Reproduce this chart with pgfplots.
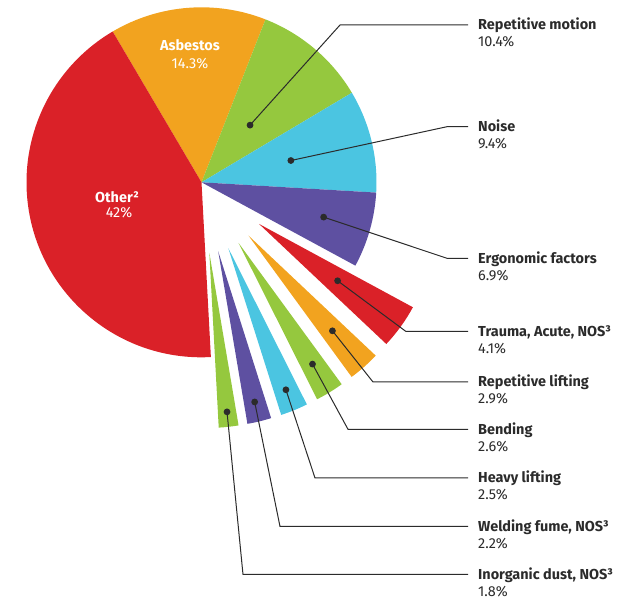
\documentclass[border=0pt]{standalone}
\usepackage{pgfplots}
\pgfplotsset{compat=1.18}
\usepackage{pgfplotstable}
\usepackage{fontspec}
\setmainfont{Fira Sans}

\definecolor{cRed}{HTML}{DA2128}
\definecolor{cOrange}{HTML}{F2A31F}
\definecolor{cGreen}{HTML}{95C83E}
\definecolor{cBlue}{HTML}{4BC5E1}
\definecolor{cPurple}{HTML}{5E50A1}
\definecolor{txt}{HTML}{2B2B2B}

\tikzset{
  lab/.style={font=\fontsize{14.5}{17}\selectfont\bfseries, text=txt, inner sep=0pt},
  pct/.style={font=\fontsize{14.5}{17}\selectfont, text=txt, inner sep=0pt},
}

% share (%), colour, explode offset, dot distance, leader elbow x, label line y (from top)
\pgfplotstableread{
value color explode dotr elbx liney
14.3 cOrange 0 0 0 0
10.4 cGreen 0 75 340 25
9.4 cBlue 0 92 447 126.7
6.9 cPurple 0 127 447 258.3
4.1 cRed 71 97 406 331.5
2.9 cOrange 71 127 373 382
2.6 cGreen 71 142 348 429.3
2.5 cBlue 71 153 315 478
2.2 cPurple 71 155 280 526.5
1.8 cGreen 71 160 243 574.5
42.0 cRed 0 0 0 0
}\piedata

\def\labi{Repetitive motion}
\def\labii{Noise}
\def\labiii{Ergonomic factors}
\def\labiv{Trauma, Acute, NOS³}
\def\labv{Repetitive lifting}
\def\labvi{Bending}
\def\labvii{Heavy lifting}
\def\labviii{Welding fume, NOS³}
\def\labix{Inorganic dust, NOS³}
\newcommand\labtext[1]{\csname lab\romannumeral#1\endcsname}

\def\cx{201.5}
\def\cy{417.7}
\def\R{175}
\def\total{99.1}

\begin{document}
\begin{tikzpicture}
\useasboundingbox (0,0) rectangle (624bp,600bp);
\begin{axis}[
    at={(0,0)}, anchor=south west,
    scale only axis, width=624bp, height=600bp,
    xmin=0, xmax=624, ymin=0, ymax=600,
    hide axis, clip=false,
]
\pgfplotstablegetrowsof{\piedata}
\pgfmathtruncatemacro\nrows{\pgfplotsretval-1}
\xdef\cur{120.5}
\pgfplotsforeachungrouped \i in {0,...,\nrows}{%
  \pgfplotstablegetelem{\i}{value}\of\piedata \let\v\pgfplotsretval
  \pgfplotstablegetelem{\i}{color}\of\piedata \let\col\pgfplotsretval
  \pgfplotstablegetelem{\i}{explode}\of\piedata \let\ex\pgfplotsretval
  \pgfplotstablegetelem{\i}{dotr}\of\piedata \let\dr\pgfplotsretval
  \pgfplotstablegetelem{\i}{elbx}\of\piedata \let\elb\pgfplotsretval
  \pgfplotstablegetelem{\i}{liney}\of\piedata \let\ly\pgfplotsretval
  \pgfmathsetmacro\a{\cur}
  \pgfmathsetmacro\b{\cur-\v*360/\total}
  \pgfmathsetmacro\m{(\a+\b)/2}
  \pgfmathsetmacro\ax{\cx+\ex*cos(\m)}
  \pgfmathsetmacro\ay{\cy+\ex*sin(\m)}
  \edef\temp{\noexpand\fill[\col] (axis cs:\ax,\ay) -- ++(\a:\R bp)
     arc[start angle=\a, end angle=\b, radius=\R bp] -- cycle;}
  \temp
  \pgfmathparse{\dr>0}
  \ifnum\pgfmathresult=1
    \pgfmathsetmacro\dx{\ax+\dr*cos(\m)}
    \pgfmathsetmacro\dy{\ay+\dr*sin(\m)}
    \pgfmathsetmacro\yy{600-\ly}
    \pgfmathsetmacro\yb{600-\ly-5}
    \pgfmathsetmacro\yp{600-\ly-22}
    \edef\temp{%
      \noexpand\draw[txt, line width=1bp] (axis cs:\dx,\dy) -- (axis cs:\elb,\yy) -- (axis cs:468,\yy);
      \noexpand\fill[txt] (axis cs:\dx,\dy) circle[radius=3.4bp];
      \noexpand\node[lab, anchor=base west] at (axis cs:478,\yb) {\noexpand\labtext{\i}};
      \noexpand\node[pct, anchor=base west] at (axis cs:478,\yp) {\v\noexpand\%};
    }
    \temp
  \fi
  \xdef\cur{\b}
}
\node[lab, anchor=base, text=white] at (axis cs:190,549.3) {Asbestos};
\node[pct, anchor=base, text=white] at (axis cs:190,531.7) {14.3\%};
\node[lab, anchor=base, text=white] at (axis cs:117,397.7) {Other²};
\node[pct, anchor=base, text=white] at (axis cs:119,382) {42\%};
\end{axis}
\end{tikzpicture}
\end{document}
